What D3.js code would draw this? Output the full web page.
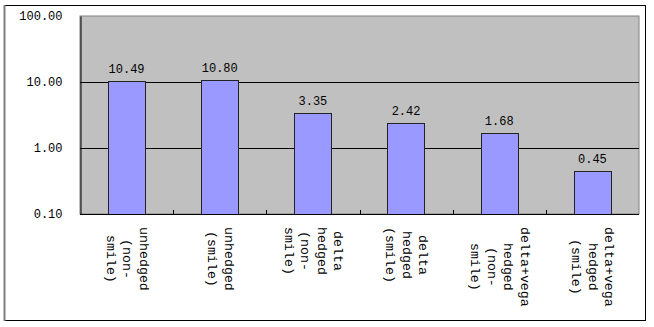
<!DOCTYPE html>
<html>
<head>
<meta charset="utf-8">
<script src="https://cdn.jsdelivr.net/npm/d3@7"></script>
<style>
  body { margin: 0; background: #fff; }
  svg { display: block; }
</style>
</head>
<body>
<div id="chart"></div>
<script>
var categories = [
  ["unhedged", "(non-", "smile)"],
  ["unhedged", "(smile)"],
  ["delta", "hedged", "(non-", "smile)"],
  ["delta", "hedged", "(smile)"],
  ["delta+vega", "hedged", "(non-", "smile)"],
  ["delta+vega", "hedged", "(smile)"]
];
var values = [10.49, 10.80, 3.35, 2.42, 1.68, 0.45];
var yTicks = [0.1, 1, 10, 100];

var width = 654, height = 327;
var plot = {left: 80, top: 16, right: 639, bottom: 214};
var font = "'Liberation Mono', 'DejaVu Sans Mono', monospace";

var svg = d3.select("#chart").append("svg")
  .attr("width", width).attr("height", height);

// outer chart frame
svg.append("rect")
  .attr("x", 4.5).attr("y", 5.5).attr("width", 641).attr("height", 315)
  .attr("fill", "#fff").attr("stroke", "#000");
svg.append("line")
  .attr("x1", 4.5).attr("x2", 4.5).attr("y1", 5).attr("y2", 321)
  .attr("stroke", "#808080").attr("stroke-width", 2);

var idx = d3.range(values.length);
var x = d3.scaleBand().domain(idx).range([plot.left, plot.right])
  .paddingInner(0.6).paddingOuter(0.3);
var y = d3.scaleLog().domain([0.1, 100]).range([plot.bottom, plot.top]);

// plot area
svg.append("rect")
  .attr("x", plot.left).attr("y", plot.top)
  .attr("width", plot.right - plot.left).attr("height", plot.bottom - plot.top)
  .attr("fill", "#c0c0c0").attr("stroke", "#808080");

// gridlines
svg.append("g").selectAll("line").data(yTicks.slice(1, 3)).join("line")
  .attr("x1", plot.left).attr("x2", plot.right)
  .attr("y1", function(d) { return Math.round(y(d)) + 0.5; })
  .attr("y2", function(d) { return Math.round(y(d)) + 0.5; })
  .attr("stroke", "#000");

// bars
svg.append("g").selectAll("rect").data(values).join("rect")
  .attr("x", function(d, i) { return Math.round(x(i)) + 0.5; })
  .attr("y", function(d) { return Math.round(y(d)) + 0.5; })
  .attr("width", Math.round(x.bandwidth()))
  .attr("height", function(d) { return Math.round(y(0.1)) - Math.round(y(d)); })
  .attr("fill", "#9999ff").attr("stroke", "#222");

// value labels
svg.append("g").selectAll("text").data(values).join("text")
  .attr("x", function(d, i) { return x(i) + x.bandwidth() / 2; })
  .attr("y", function(d) { return y(d) - 8; })
  .attr("text-anchor", "middle")
  .style("font", "12px " + font).attr("fill", "#000")
  .text(function(d) { return d.toFixed(2); });

// y axis
var yAxis = d3.axisLeft(y).tickValues(yTicks).tickFormat(d3.format(".2f")).tickSize(0).tickPadding(18);
var gy = svg.append("g").attr("transform", "translate(" + (plot.left + 0.5) + ",0)").call(yAxis);
gy.select(".domain").attr("stroke", "#000");
gy.selectAll("text").style("font", "12px " + font).attr("fill", "#000");

// x axis line and category boundary ticks
var step = x.step();
svg.append("line")
  .attr("x1", plot.left).attr("x2", plot.right)
  .attr("y1", plot.bottom + 0.5).attr("y2", plot.bottom + 0.5)
  .attr("stroke", "#000");
svg.append("g").selectAll("line").data(d3.range(1, values.length)).join("line")
  .attr("x1", function(i) { return Math.round(plot.left + i * step) + 0.5; })
  .attr("x2", function(i) { return Math.round(plot.left + i * step) + 0.5; })
  .attr("y1", plot.bottom).attr("y2", plot.bottom - 4)
  .attr("stroke", "#000");

// rotated category labels
var lineGap = 16.5;
categories.forEach(function(lines, i) {
  var cx = plot.left + (i + 0.5) * step;
  var g = svg.append("g").attr("transform", "translate(" + cx + ",227) rotate(90)");
  var t = g.selectAll("text").data(lines).join("text")
    .attr("y", function(d, j) { return (j - (lines.length - 1) / 2) * lineGap; })
    .attr("dominant-baseline", "central")
    .attr("text-anchor", "middle")
    .style("font", "13.3px " + font).attr("fill", "#000")
    .text(function(d) { return d; });
  var maxLen = d3.max(t.nodes(), function(n) { return n.getComputedTextLength(); });
  t.attr("x", maxLen / 2);
});
</script>
</body>
</html>
